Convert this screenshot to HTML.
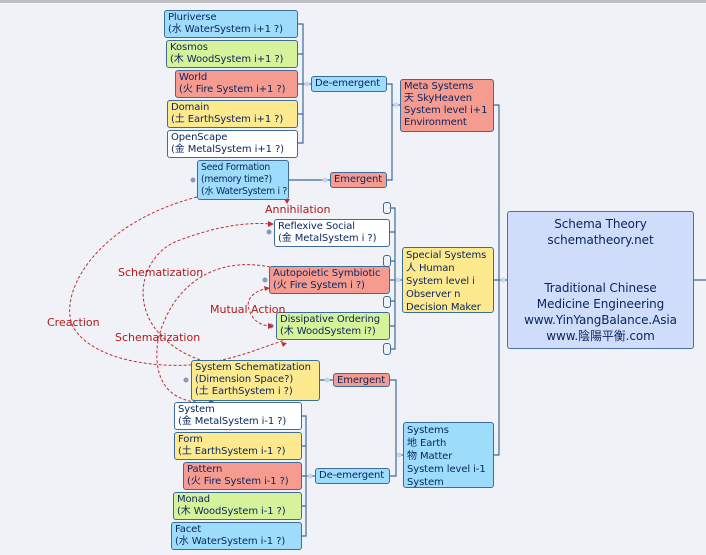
<!DOCTYPE html>
<html><head><meta charset="utf-8"><style>
body{margin:0;width:706px;height:555px;overflow:hidden;background:#f0f2f8;position:relative;font-family:"DejaVu Sans","Noto Sans CJK SC",sans-serif;}
.b{position:absolute;box-sizing:border-box;border:1px solid #3d6c98;border-radius:3px;font-size:10px;line-height:12px;color:#08245e;padding:1px 3px;white-space:nowrap;letter-spacing:-0.1px;overflow:hidden}
.bl{background:#9edcfc}.gr{background:#d6f29a}.rd{background:#f69b90}.yl{background:#fde98e}.wh{background:#fff}
.s{position:absolute;box-sizing:border-box;border:1px solid #3d6c98;border-radius:3px;background:#f0f2f8}
.lab{position:absolute;color:#b01a1a;font-size:11px;white-space:nowrap}
svg{position:absolute;left:0;top:0}
</style></head><body>
<div style="position:absolute;left:0;top:0;width:706px;height:3px;background:#bfbfc4"></div>
<svg width="706" height="555">
<g fill="none" stroke="#3d6c98" stroke-width="1.2">
<path d="M297,24 H303 V143 H297 M297,54 H303 M297,84 H311 M297,114 H303"/>
<path d="M386,84 H392 V180 H386 M392,105 H400"/>
<path d="M288,180 H330"/>
<path d="M390,208 H395 V349 H390 M389,232 H395 M389,261 H395 M389,280 H402 M389,301 H395 M389,326 H395"/>
<path d="M493,105 H499 V455 H493 M493,280 H507 M694,280 H706"/>
<path d="M319,380 H333 M389,380 H396 V476 H389 M396,455 H403"/>
<path d="M301,416 H306 V536 H301 M301,446 H306 M301,476 H315 M301,506 H306"/>
</g>
<g fill="#c8d4ec" stroke="none">
<circle cx="307" cy="84" r="2.5"/><circle cx="396" cy="105" r="2.5"/><circle cx="325" cy="180" r="2.5"/>
<circle cx="398" cy="280" r="2.5"/><circle cx="503" cy="280" r="2.5"/><circle cx="327" cy="380" r="2.5"/>
<circle cx="399" cy="455" r="2.5"/><circle cx="310" cy="476" r="2.5"/>
</g>
<g fill="#8a9ab8"><circle cx="193" cy="180" r="2.5"/><circle cx="269" cy="232" r="2.5"/><circle cx="265" cy="280" r="2.5"/><circle cx="271" cy="326" r="2.5"/><circle cx="186" cy="380" r="2.5"/></g>
<g fill="none" stroke="#c03030" stroke-width="1" stroke-dasharray="3,2">
<path d="M197,197 C90,225 55,300 75,330 C100,365 170,368 200,364 C240,358 260,348 285,340"/>
<path d="M200,360 C120,330 135,255 180,240 C220,225 250,222 272,224"/>
<path d="M270,267 C210,255 170,290 158,340 C150,395 185,405 212,402"/>
<path d="M268,288 C250,292 245,302 250,312 C254,322 262,326 272,326"/>
</g>
<g fill="#c03030">
<path d="M287,343 l-6,-1 l2,5z"/><path d="M274,224 l-6,-3 v6z"/><path d="M214,402 l-5,-3 v6z"/>
<path d="M270,288 l-6,-2 l1,5z"/><path d="M274,326 l-6,-3 v6z"/><path d="M287,204 l-3,-5 h6z"/>
</g>
</svg>
<div class="b bl" style="left:164px;top:10px;width:134px;height:28px">Pluriverse<br>(水 WaterSystem i+1 ?)</div>
<div class="b gr" style="left:166px;top:40px;width:132px;height:28px">Kosmos<br>(木 WoodSystem i+1 ?)</div>
<div class="b rd" style="left:175px;top:70px;width:123px;height:28px">World<br>(火 Fire System i+1 ?)</div>
<div class="b yl" style="left:167px;top:100px;width:131px;height:28px">Domain<br>(土 EarthSystem i+1 ?)</div>
<div class="b wh" style="left:167px;top:130px;width:131px;height:28px">OpenScape<br>(金 MetalSystem i+1 ?)</div>
<div class="b bl" style="left:197px;top:160px;width:92px;height:40px;font-size:9.3px;letter-spacing:-0.3px">Seed Formation<br>(memory time?)<br>(水 WaterSystem i ?)</div>
<div class="b bl" style="left:311px;top:76px;width:76px;height:16px;line-height:12px">De-emergent</div>
<div class="b rd" style="left:330px;top:172px;width:57px;height:16px">Emergent</div>
<div class="b rd" style="left:400px;top:79px;width:94px;height:53px">Meta Systems<br>天 SkyHeaven<br>System level i+1<br>Environment</div>
<div class="s" style="left:383px;top:202px;width:8px;height:12px"></div>
<div class="s" style="left:383px;top:255px;width:8px;height:12px"></div>
<div class="s" style="left:383px;top:296px;width:8px;height:12px"></div>
<div class="s" style="left:383px;top:343px;width:8px;height:12px"></div>
<div class="lab" style="left:265px;top:203px">Annihilation</div>
<div class="b wh" style="left:274px;top:219px;width:116px;height:28px">Reflexive Social<br>(金 MetalSystem i ?)</div>
<div class="b rd" style="left:269px;top:266px;width:121px;height:28px">Autopoietic Symbiotic<br>(火 Fire System i ?)</div>
<div class="b gr" style="left:276px;top:312px;width:114px;height:28px">Dissipative Ordering<br>(木 WoodSystem i?)</div>
<div class="b yl" style="left:402px;top:247px;width:92px;height:66px;line-height:13px">Special Systems<br>人 Human<br>System level i<br>Observer n<br>Decision Maker</div>
<div class="lab" style="left:118px;top:266px">Schematization</div>
<div class="lab" style="left:47px;top:316px">Creaction</div>
<div class="lab" style="left:210px;top:303px">Mutual Action</div>
<div class="lab" style="left:115px;top:331px">Schematization</div>
<div class="b yl" style="left:191px;top:360px;width:129px;height:41px">System Schematization<br>(Dimension Space?)<br>(土 EarthSystem i ?)</div>
<div class="b rd" style="left:333px;top:373px;width:57px;height:14px;line-height:11px">Emergent</div>
<div class="b wh" style="left:174px;top:402px;width:128px;height:28px">System<br>(金 MetalSystem i-1 ?)</div>
<div class="b yl" style="left:174px;top:432px;width:128px;height:28px">Form<br>(土 EarthSystem i-1 ?)</div>
<div class="b rd" style="left:183px;top:462px;width:119px;height:28px">Pattern<br>(火 Fire System i-1 ?)</div>
<div class="b gr" style="left:173px;top:492px;width:129px;height:28px">Monad<br>(木 WoodSystem i-1 ?)</div>
<div class="b bl" style="left:171px;top:522px;width:131px;height:28px">Facet<br>(水 WaterSystem i-1 ?)</div>
<div class="b bl" style="left:315px;top:468px;width:75px;height:16px">De-emergent</div>
<div class="b bl" style="left:403px;top:422px;width:91px;height:66px;line-height:13px">Systems<br>地 Earth<br>物 Matter<br>System level i-1<br>System</div>
<div class="b" style="left:507px;top:211px;width:187px;height:138px;background:#d0ddfa;text-align:center;font-size:12px;line-height:16px;padding-top:4px;border-color:#4a70a8">Schema Theory<br>schematheory.net<br><br><br>Traditional Chinese<br>Medicine Engineering<br>www.YinYangBalance.Asia<br>www.陰陽平衡.com</div>
</body></html>
